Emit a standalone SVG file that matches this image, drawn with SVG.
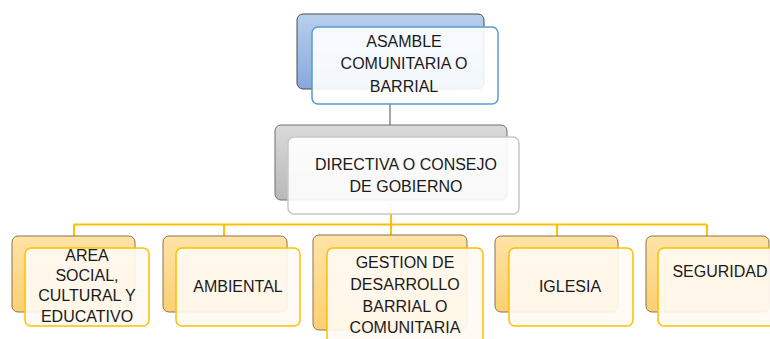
<svg xmlns="http://www.w3.org/2000/svg" width="770" height="339" viewBox="0 0 770 339">
<defs>
<linearGradient id="gBlue" x1="0" y1="0" x2="0" y2="1"><stop offset="0" stop-color="#b9cfec"/><stop offset="1" stop-color="#86a9dc"/></linearGradient>
<linearGradient id="gGrey" x1="0" y1="0" x2="0" y2="1"><stop offset="0" stop-color="#dadada"/><stop offset="1" stop-color="#b8b8b8"/></linearGradient>
<linearGradient id="gGold" x1="0" y1="0" x2="0" y2="1"><stop offset="0" stop-color="#ffe3a6"/><stop offset="1" stop-color="#fccf72"/></linearGradient>
</defs>
<style>
text{font-family:"Liberation Sans",Arial,sans-serif;font-size:16px;fill:#1a1a1a;text-anchor:middle}
.bb{fill:url(#gBlue);stroke:#4a4a4a;stroke-width:1}
.bf{fill:#ffffff;fill-opacity:0.9;stroke:#5b9bd5;stroke-width:1.5}
.gb{fill:url(#gGrey);stroke:#6e6e6e;stroke-width:1}
.gf{fill:#ffffff;fill-opacity:0.9;stroke:#c8c8c8;stroke-width:1.5}
.yb{fill:url(#gGold);stroke:#8a7450;stroke-width:1}
.yf{fill:#fffaf2;fill-opacity:0.92;stroke:#ffc000;stroke-width:1.5}
.cg{stroke:#a6a6a6;stroke-width:2;fill:none}
.cy{stroke:#ffc000;stroke-width:2;fill:none}
</style>
<g id="connectors">
<line class="cg" x1="390" y1="100" x2="390" y2="126"/>
<path class="cy" d="M391 205 V224.5 M74 224.5 H707 M74 224.5 V236 M224 224.5 V236 M391 224.5 V236 M557 224.5 V236 M707 224.5 V236"/>
</g>
<g id="asamblea">
<rect class="bb" x="297" y="14" width="187" height="75" rx="6"/>
<rect class="bf" x="312" y="27" width="186" height="77" rx="6"/>
<text x="404" y="47">ASAMBLE</text>
<text x="404" y="69">COMUNITARIA O</text>
<text x="404" y="92">BARRIAL</text>
</g>
<g id="directiva">
<rect class="gb" x="275" y="125" width="232" height="75" rx="6"/>
<rect class="gf" x="288" y="137" width="231" height="77" rx="6"/>
<text x="406" y="170">DIRECTIVA O CONSEJO</text>
<text x="406" y="192">DE GOBIERNO</text>
</g>
<g id="area-social">
<rect class="yb" x="12" y="236" width="123" height="76" rx="6"/>
<rect class="yf" x="25" y="248" width="124" height="78" rx="6"/>
<text x="87" y="261">AREA</text>
<text x="87" y="281">SOCIAL,</text>
<text x="87" y="301">CULTURAL Y</text>
<text x="87" y="322">EDUCATIVO</text>
</g>
<g id="ambiental">
<rect class="yb" x="163" y="236" width="124" height="76" rx="6"/>
<rect class="yf" x="176" y="248" width="124" height="78" rx="6"/>
<text x="238" y="292">AMBIENTAL</text>
</g>
<g id="gestion">
<rect class="yb" x="313" y="235" width="154" height="95" rx="6"/>
<rect class="yf" x="327" y="248" width="156" height="96" rx="6"/>
<text x="405" y="268">GESTION DE</text>
<text x="405" y="290">DESARROLLO</text>
<text x="405" y="312">BARRIAL O</text>
<text x="405" y="333">COMUNITARIA</text>
</g>
<g id="iglesia">
<rect class="yb" x="495" y="236" width="123" height="76" rx="6"/>
<rect class="yf" x="509" y="248" width="124" height="78" rx="6"/>
<text x="570" y="292">IGLESIA</text>
</g>
<g id="seguridad">
<rect class="yb" x="646" y="236" width="123" height="76" rx="6"/>
<rect class="yf" x="658" y="248" width="124" height="78" rx="6"/>
<text x="720" y="277">SEGURIDAD</text>
</g>
</svg>
